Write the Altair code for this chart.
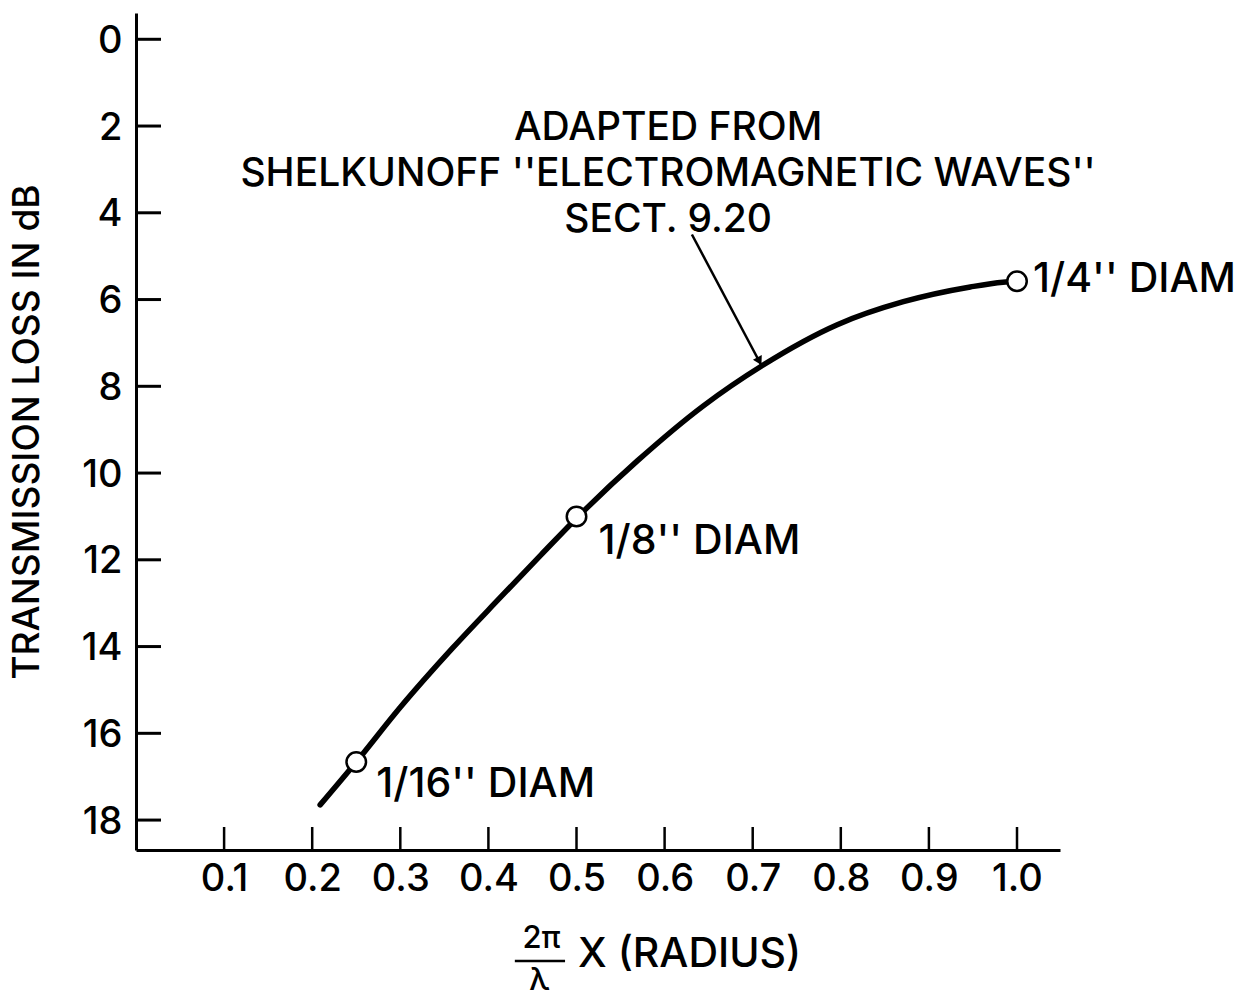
import altair as alt
import pandas as pd

FONT = "Inter"
WEIGHT = 500

# Transmission loss curve: (2*pi/lambda) * radius  vs  loss in dB
radius_x = [0.209, 0.250, 0.300, 0.360, 0.413, 0.460, 0.502, 0.569,
            0.644, 0.711, 0.796, 0.871, 0.947, 0.984, 1.000]
loss_db = [17.65, 16.66, 15.40, 14.02, 12.88, 11.88, 11.00, 9.72,
           8.45, 7.52, 6.58, 6.05, 5.71, 5.60, 5.58]

# Marked wire diameters on the curve
wire_x = [0.25, 0.50, 1.00]
wire_loss = [16.66, 11.00, 5.58]
wire_label = ["1/16'' DIAM", "1/8'' DIAM", "1/4'' DIAM"]
label_offsets = [(20, 23), (22, 26), (16, -1)]  # pixel dx, dy from each circle

# Axis ticks
x_ticks = [0.1, 0.2, 0.3, 0.4, 0.5, 0.6, 0.7, 0.8, 0.9, 1.0]
y_ticks = [0, 2, 4, 6, 8, 10, 12, 14, 16, 18]

# Source note and its leader arrow
note_lines = ["ADAPTED FROM", "SHELKUNOFF ''ELECTROMAGNETIC WAVES''", "SECT. 9.20"]
note_x = 0.604
note_y = [2.04, 3.10, 4.17]
arrow_from = (0.631, 4.50)
arrow_to = (0.711, 7.56)

x_scale = alt.Scale(domain=[0, 1.0488], nice=False, zero=False)
y_scale = alt.Scale(domain=[-0.606, 18.69], reverse=True, nice=False, zero=False)

x_axis = alt.Axis(
    values=x_ticks, format=".1f", title=None, ticks=False, tickSize=0, grid=False,
    domainColor="black", domainWidth=3, labelFont=FONT, labelFontSize=38,
    labelFontWeight=WEIGHT, labelColor="black", labelPadding=10,
    labelFlush=False, labelOverlap=False)
y_axis = alt.Axis(
    values=y_ticks, format="d", ticks=False, tickSize=0, grid=False,
    domainColor="black", domainWidth=3, labelFont=FONT, labelFontSize=38,
    labelFontWeight=WEIGHT, labelColor="black", labelPadding=14,
    labelFlush=False, labelOverlap=False, labelBaseline="middle", labelOffset=2,
    title="TRANSMISSION LOSS IN dB", titleFont=FONT, titleFontSize=37,
    titleFontWeight=WEIGHT, titleColor="black", titleX=-109, titleY=418.5,
    titleAlign="center", titleBaseline="middle", titleAngle=270)


def X(field="x"):
    return alt.X(f"{field}:Q", scale=x_scale, axis=x_axis)


def Y(field="y"):
    return alt.Y(f"{field}:Q", scale=y_scale, axis=y_axis)


curve_df = pd.DataFrame({"x": radius_x, "y": loss_db})
wire_df = pd.DataFrame({"x": wire_x, "y": wire_loss, "label": wire_label})

curve = alt.Chart(curve_df).mark_line(
    color="black", strokeWidth=5.5, interpolate="monotone", strokeCap="round"
).encode(x=X(), y=Y())

# Inward tick marks
x_tick_rules = alt.Chart(pd.DataFrame({"x": x_ticks})).mark_rule(
    color="black", strokeWidth=2.5
).encode(x=X(), y=alt.value(837), y2=alt.value(814))

y_tick_rules = alt.Chart(pd.DataFrame({"y": y_ticks})).mark_rule(
    color="black", strokeWidth=3
).encode(y=Y(), x=alt.value(0), x2=alt.value(25))

circles = alt.Chart(wire_df).mark_point(
    shape="circle", filled=True, fill="white", stroke="black",
    strokeWidth=2.5, size=380, opacity=1
).encode(x=X(), y=Y())

label_layers = []
for i, (dx, dy) in enumerate(label_offsets):
    label_layers.append(
        alt.Chart(wire_df.iloc[[i]]).mark_text(
            align="left", baseline="middle", dx=dx, dy=dy,
            font=FONT, fontSize=41, fontWeight=WEIGHT, color="black"
        ).encode(x=X(), y=Y(), text="label:N")
    )

note_df = pd.DataFrame({"x": [note_x] * len(note_lines), "y": note_y, "t": note_lines})
note = alt.Chart(note_df).mark_text(
    align="center", baseline="middle", font=FONT, fontSize=39,
    fontWeight=WEIGHT, color="black"
).encode(x=X(), y=Y(), text="t:N")

arrow_df = pd.DataFrame({"x": [arrow_from[0]], "y": [arrow_from[1]],
                         "x2": [arrow_to[0]], "y2": [arrow_to[1]]})
arrow_line = alt.Chart(arrow_df).mark_rule(color="black", strokeWidth=2.5).encode(
    x=X(), y=Y(), x2="x2:Q", y2="y2:Q"
)
arrow_head = alt.Chart(arrow_df).mark_point(
    shape="triangle-up", filled=True, color="black", opacity=1, size=100,
    angle=152, xOffset=-3, yOffset=-6
).encode(x=X("x2"), y=Y("y2"))

# x-axis title: 2π/λ X (RADIUS)
frac_df = pd.DataFrame({"x": [0.4603, 0.458], "y": [20.74, 21.71], "t": ["2π", "λ"]})
frac_text = alt.Chart(frac_df).mark_text(
    align="center", baseline="middle", font=FONT, fontSize=31,
    fontWeight=WEIGHT, color="black"
).encode(x=X(), y=Y(), text="t:N")
frac_bar = alt.Chart(pd.DataFrame({"x": [0.430], "x2": [0.487], "y": [21.25]})).mark_rule(
    color="black", strokeWidth=2.5
).encode(x=X(), x2="x2:Q", y=Y())
radius_text = alt.Chart(pd.DataFrame({"x": [0.5017], "y": [21.11], "t": ["X (RADIUS)"]})).mark_text(
    align="left", baseline="middle", font=FONT, fontSize=41,
    fontWeight=WEIGHT, color="black"
).encode(x=X(), y=Y(), text="t:N")

chart = alt.layer(
    curve, x_tick_rules, y_tick_rules, arrow_line, arrow_head, circles,
    *label_layers, note, frac_text, frac_bar, radius_text
).properties(
    width=924, height=837, autosize="none",
    padding={"left": 136, "top": 13, "right": 187, "bottom": 151},
    background="white",
).configure_view(stroke=None)

chart.save("out.html", embed_options={"renderer": "svg", "actions": False})
